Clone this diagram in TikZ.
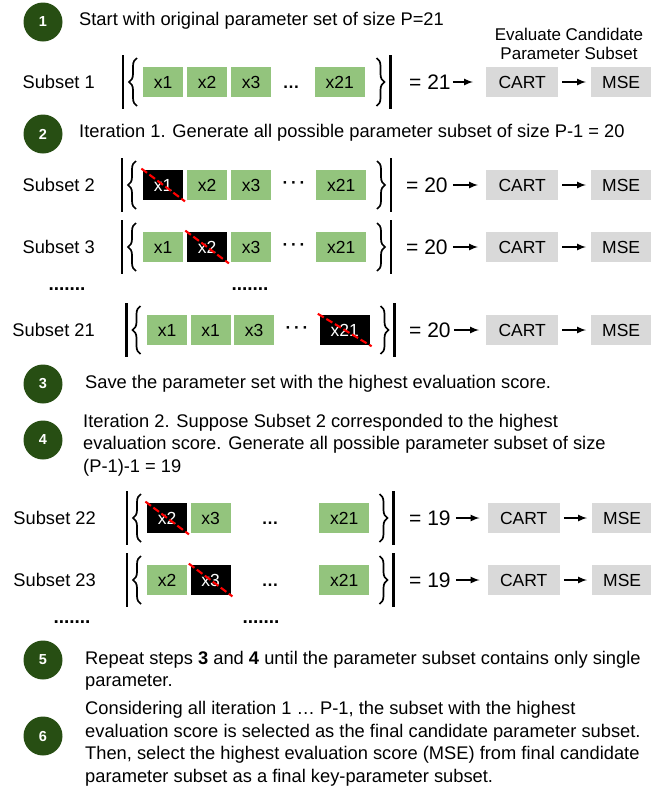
\documentclass[tikz,border=0pt]{standalone}
\usepackage{fontspec}
\setmainfont{Liberation Sans}
\usepackage{tikz}
\usetikzlibrary{arrows,positioning,decorations.pathreplacing}
\definecolor{stepgreen}{HTML}{274E13}
\definecolor{boxgreen}{HTML}{93C47D}
\definecolor{boxgray}{HTML}{D9D9D9}
\tikzset{%
  stepnum/.style  = {circle, fill=stepgreen, minimum size=39pt, inner sep=0pt,
    text=white, font=\fontsize{14.5}{14.5}\selectfont\bfseries}, % step badge
  steptxt/.style  = {anchor=west, align=left, inner sep=0pt,
    font=\fontsize{18.3}{22.5}\selectfont},
  evalhead/.style = {align=center, inner sep=0pt, font=\fontsize{17}{19}\selectfont},
  sublabel/.style = {anchor=east, inner sep=0pt, font=\fontsize{18.3}{20}\selectfont},
  param/.style    = {fill=boxgreen, minimum width=40pt, minimum height=30pt,
    inner sep=0pt, anchor=west, font=\fontsize{17.5}{17.5}\selectfont},
  wideparam/.style= {param, minimum width=50pt},
  dropped/.style  = {fill=black, text=white}, % removed parameter
  evalbox/.style  = {fill=boxgray, minimum height=30pt, inner sep=0pt,
    anchor=west, font=\fontsize{17.5}{17.5}\selectfont},
  card/.style     = {anchor=west, inner sep=0pt, font=\fontsize{21}{21}\selectfont},
  skip/.style     = {inner sep=0pt, font=\fontsize{17}{17}\selectfont\bfseries},
  dotrow/.style   = {inner sep=0pt, font=\fontsize{19}{19}\selectfont\bfseries},
  cross/.style    = {red, line width=2.1pt, dash pattern=on 7pt off 3pt,
    shorten <=-2pt, shorten >=-2pt},
  flow/.style     = {-latex, line width=2pt, shorten <=5pt, shorten >=8pt},
  bar/.style      = {line width=2.4pt},
  setbrace/.style = {line width=1.7pt, decorate, decoration={brace, amplitude=8pt}}
}
% |{ ... }| : left bar x, right bar x, row y
\newcommand{\setbars}[3]{%
  \draw[bar] (#1,#3-27) -- (#1,#3+27);
  \draw[setbrace] (#1+14,#3+24) -- (#1+14,#3-24);
  \draw[setbrace] (#2-14,#3-24) -- (#2-14,#3+24);
  \draw[bar] (#2,#3-27) -- (#2,#3+27);
}

\begin{document}
\begin{tikzpicture}[x=1pt, y=-1pt]
\useasboundingbox (0,0) rectangle (651,793);

% step 1
\node[stepnum] (step1) at (43,22) {1};
\node[steptxt] (txt1) at (79,21) {Start with original parameter set of size P=21};
\node[evalhead] (head) at (569,44) {Evaluate Candidate\\Parameter Subset};

% subset 1
\node[sublabel] (lab1) at (95,82) {Subset 1};
\node[param] (p1a) at (143,82) {x1};
\node[param, right=3.5pt of p1a] (p1b) {x2};
\node[param, right=3.5pt of p1b] (p1c) {x3};
\node[skip, anchor=base] (p1d) at (291,88) {…};
\node[wideparam] (p1e) at (314.5,82) {x21};
\setbars{123}{390.5}{82}
\node[card] (eq1) at (409,82) {= 21};
\node[evalbox, minimum width=72pt] (cart1) at (486,82) {CART};
\node[evalbox, minimum width=60pt] (mse1) at (591,82) {MSE};
\draw[flow, shorten <=2pt, shorten >=13pt] (eq1.east) -- (cart1.west);
\draw[flow, shorten <=4pt, shorten >=5pt] (cart1.east) -- (mse1.west);

% step 2
\node[stepnum] (step2) at (43,134) {2};
\node[steptxt] (txt2) at (79,133) {Iteration 1. Generate all possible parameter subset of size P-1 = 20};

% subset 2
\node[sublabel] (lab2) at (95,185) {Subset 2};
\node[param, dropped] (p2a) at (143,185) {x1};
\node[param, right=3.5pt of p2a] (p2b) {x2};
\node[param, right=3.5pt of p2b] (p2c) {x3};
\node[skip] (p2d) at (294,185) {·\,·\,·};
\node[wideparam] (p2e) at (316,185) {x21};
\draw[cross] (p2a.north west) -- (p2a.south east);
\setbars{122}{391}{185}
\node[card] (eq2) at (406,185) {= 20};
\node[evalbox, minimum width=72pt] (cart2) at (486,185) {CART};
\node[evalbox, minimum width=60pt] (mse2) at (591,185) {MSE};
\draw[flow] (eq2.east) -- (cart2.west);
\draw[flow, shorten <=4pt, shorten >=5pt] (cart2.east) -- (mse2.west);

% subset 3
\node[sublabel] (lab3) at (95,247) {Subset 3};
\node[param] (p3a) at (143,247) {x1};
\node[param, dropped, right=3.5pt of p3a] (p3b) {x2};
\node[param, right=3.5pt of p3b] (p3c) {x3};
\node[skip] (p3d) at (294,247) {·\,·\,·};
\node[wideparam] (p3e) at (316,247) {x21};
\draw[cross] (p3b.north west) -- (p3b.south east);
\setbars{122}{391}{247}
\node[card] (eq3) at (406,247) {= 20};
\node[evalbox, minimum width=72pt] (cart3) at (486,247) {CART};
\node[evalbox, minimum width=60pt] (mse3) at (591,247) {MSE};
\draw[flow] (eq3.east) -- (cart3.west);
\draw[flow, shorten <=4pt, shorten >=5pt] (cart3.east) -- (mse3.west);

\node[dotrow] (gap1) at (67,289) {.......};
\node[dotrow] (gap2) at (250,289) {.......};

% subset 21
\node[sublabel] (lab21) at (95,330) {Subset 21};
\node[param] (p21a) at (147,330) {x1};
\node[param, right=3pt of p21a] (p21b) {x1};
\node[param, right=3pt of p21b] (p21c) {x3};
\node[skip] (p21d) at (297,330) {·\,·\,·};
\node[wideparam, dropped] (p21e) at (319.5,330) {x21};
\draw[cross] (p21e.north west) -- (p21e.south east);
\setbars{126.5}{394.5}{330}
\node[card] (eq21) at (409,330) {= 20};
\node[evalbox, minimum width=72pt] (cart21) at (486,330) {CART};
\node[evalbox, minimum width=60pt] (mse21) at (591,330) {MSE};
\draw[flow, shorten <=3pt, shorten >=7pt] (eq21.east) -- (cart21.west);
\draw[flow, shorten <=4pt, shorten >=5pt] (cart21.east) -- (mse21.west);

% steps 3 and 4
\node[stepnum] (step3) at (43,384) {3};
\node[steptxt] (txt3) at (85,384) {Save the parameter set with the highest evaluation score.};
\node[stepnum] (step4) at (43,440) {4};
\node[steptxt] (txt4) at (83,445) {Iteration 2. Suppose Subset 2 corresponded to the highest\\
  evaluation score. Generate all possible parameter subset of size\\(P-1)-1 = 19};

% subset 22
\node[sublabel] (lab22) at (96,518) {Subset 22};
\node[param, dropped] (p22a) at (147,518) {x2};
\node[param, right=3pt of p22a] (p22b) {x3};
\node[skip, anchor=base] (p22d) at (270,524) {…};
\node[wideparam] (p22e) at (319,518) {x21};
\draw[cross] (p22a.north west) -- (p22a.south east);
\setbars{127}{393.5}{518}
\node[card] (eq22) at (409,518) {= 19};
\node[evalbox, minimum width=72pt] (cart22) at (487.5,518) {CART};
\node[evalbox, minimum width=60pt] (mse22) at (592,518) {MSE};
\draw[flow] (eq22.east) -- (cart22.west);
\draw[flow, shorten <=4pt, shorten >=5pt] (cart22.east) -- (mse22.west);

% subset 23
\node[sublabel] (lab23) at (96,580) {Subset 23};
\node[param] (p23a) at (147,580) {x2};
\node[param, dropped, right=3pt of p23a] (p23b) {x3};
\node[skip, anchor=base] (p23d) at (270,586) {…};
\node[wideparam] (p23e) at (319,580) {x21};
\draw[cross] (p23b.north west) -- (p23b.south east);
\setbars{127}{393.5}{580}
\node[card] (eq23) at (409,580) {= 19};
\node[evalbox, minimum width=72pt] (cart23) at (487.5,580) {CART};
\node[evalbox, minimum width=60pt] (mse23) at (592,580) {MSE};
\draw[flow] (eq23.east) -- (cart23.west);
\draw[flow, shorten <=4pt, shorten >=5pt] (cart23.east) -- (mse23.west);

\node[dotrow] (gap3) at (72,622) {.......};
\node[dotrow] (gap4) at (261,622) {.......};

% steps 5 and 6
\node[stepnum] (step5) at (43,660) {5};
\node[steptxt] (txt5) at (85,671) {Repeat steps \textbf{3} and \textbf{4} until the parameter subset contains only single\\parameter.};
\node[stepnum] (step6) at (43,736) {6};
\node[steptxt] (txt6) at (85,744) {Considering all iteration 1 … P-1, the subset with the highest\\
  evaluation score is selected as the final candidate parameter subset.\\
  Then, select the highest evaluation score (MSE) from final candidate\\
  parameter subset as a final key-parameter subset.};
\end{tikzpicture}
\end{document}
